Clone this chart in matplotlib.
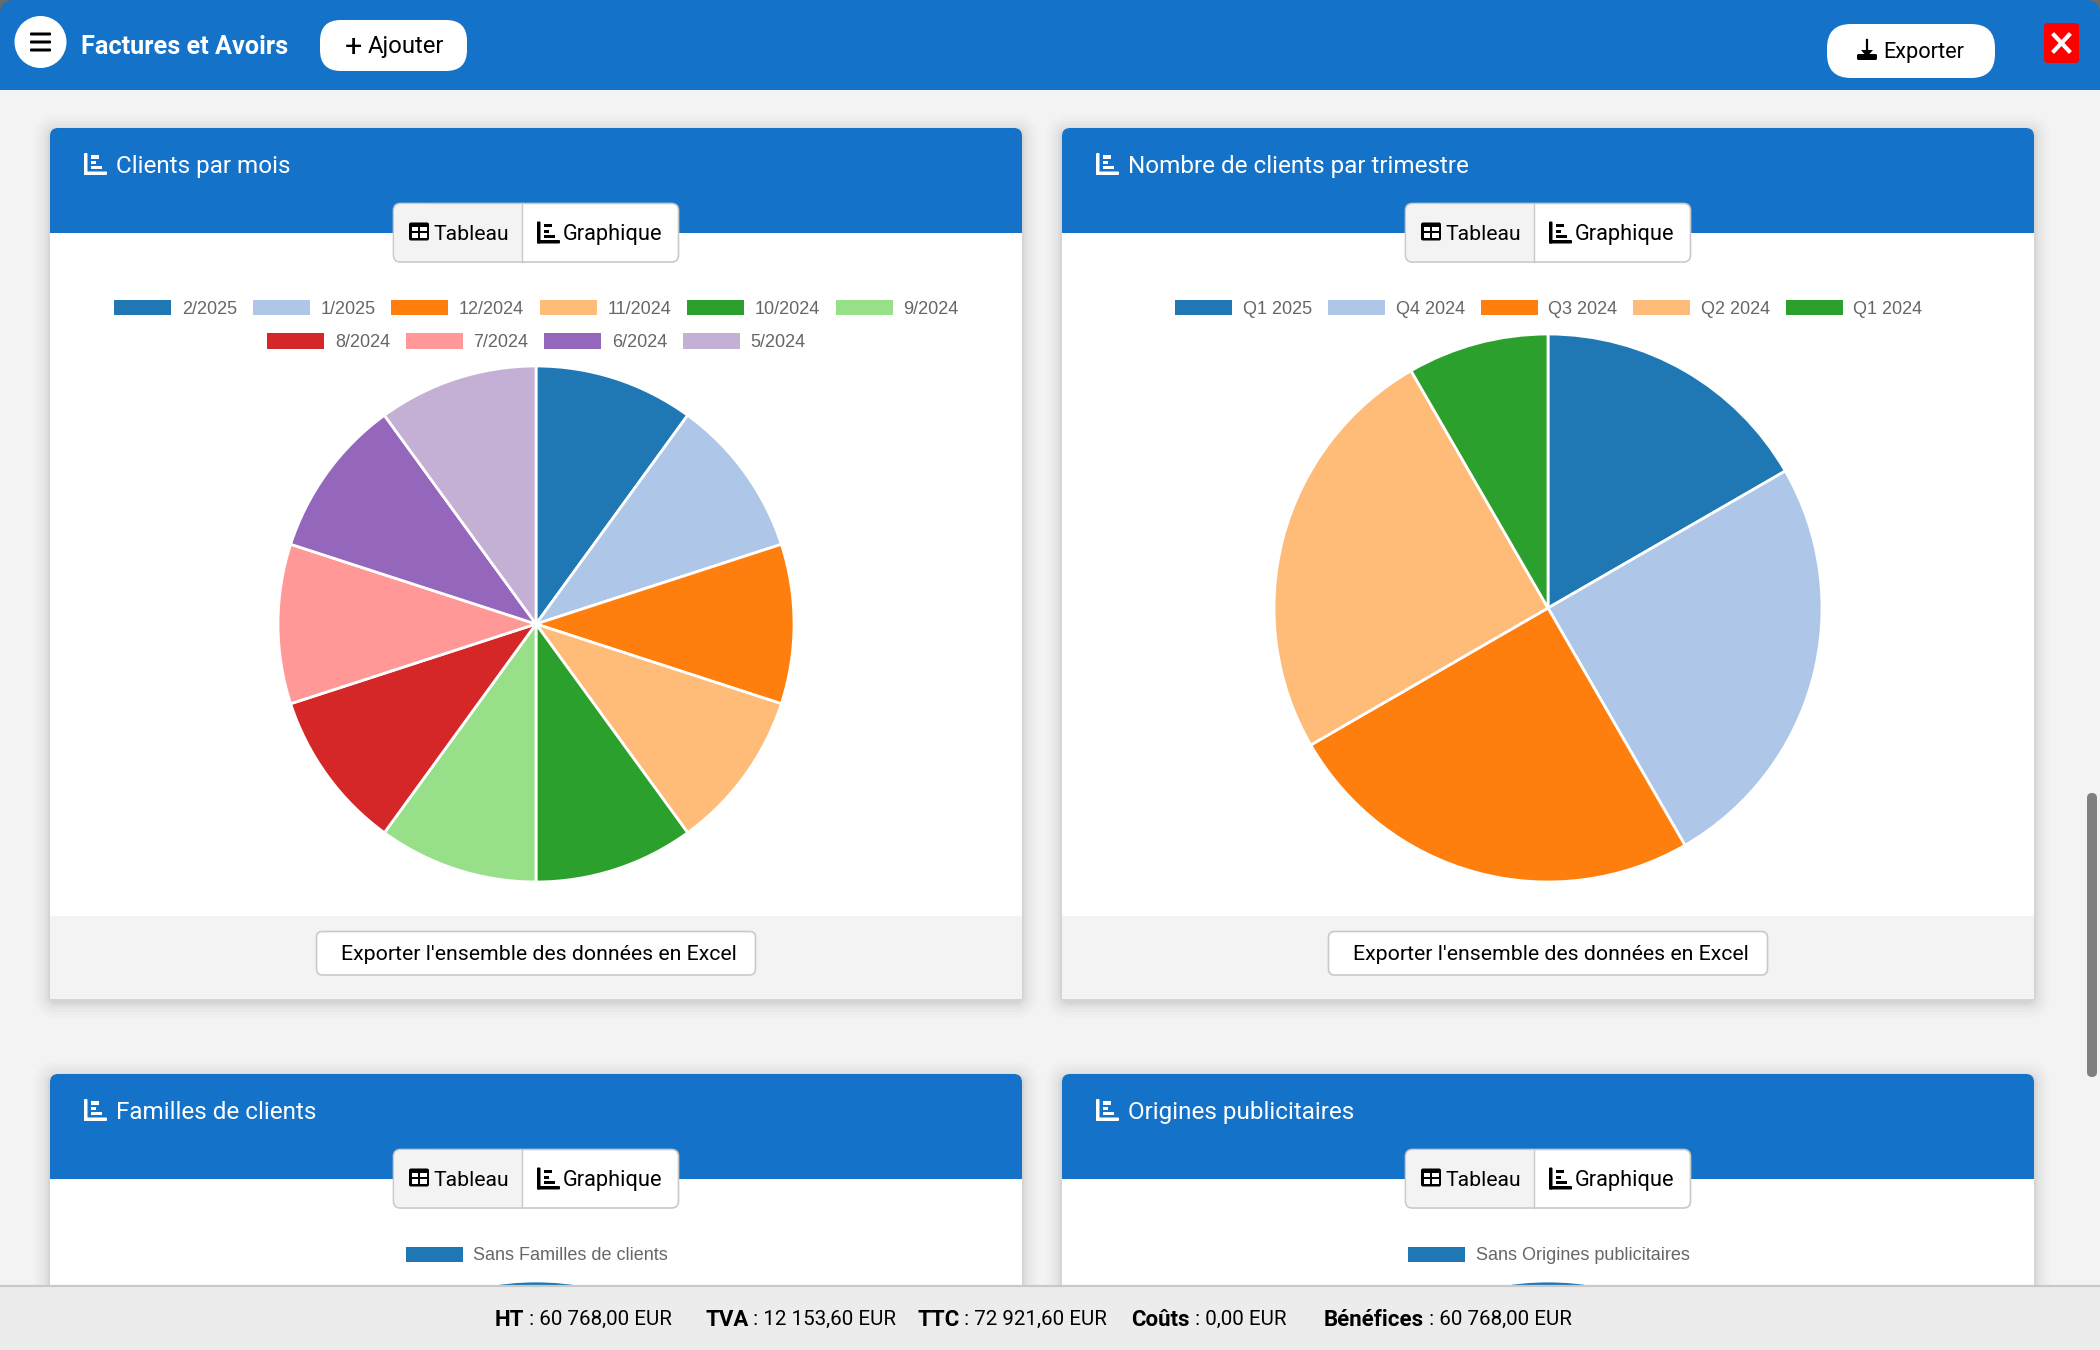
import matplotlib
matplotlib.use("Agg")
import matplotlib.pyplot as plt
from matplotlib.patches import FancyBboxPatch, Rectangle, Circle, Polygon

W, H = 2100, 1350

BLUE = "#1572C9"
PAGE_BG = "#F3F3F3"
BAR_BG = "#ECECEC"
BORDER = "#C9C9C9"
UI_FONT = "Roboto"
LEGEND_FONT = "Liberation Sans"

# chart data
month_labels = ["2/2025", "1/2025", "12/2024", "11/2024", "10/2024", "9/2024",
                "8/2024", "7/2024", "6/2024", "5/2024"]
month_values = [1, 1, 1, 1, 1, 1, 1, 1, 1, 1]
quarter_labels = ["Q1 2025", "Q4 2024", "Q3 2024", "Q2 2024", "Q1 2024"]
quarter_values = [2, 3, 3, 3, 1]
family_labels = ["Sans Familles de clients"]
family_values = [1]
origin_labels = ["Sans Origines publicitaires"]
origin_values = [1]
palette = ["#1f77b4", "#aec7e8", "#ff7f0e", "#ffbb78", "#2ca02c",
           "#98df8a", "#d62728", "#ff9896", "#9467bd", "#c5b0d5"]

total_names = ["HT", "TVA", "TTC", "Coûts", "Bénéfices"]
total_values = ["60 768,00 EUR", "12 153,60 EUR", "72 921,60 EUR", "0,00 EUR", "60 768,00 EUR"]
total_starts = [495, 705, 917, 1131, 1324]

fig = plt.figure(figsize=(W / 100, H / 100), dpi=100, facecolor=PAGE_BG)
ax = fig.add_axes([0, 0, 1, 1], zorder=0)
ax.set_xlim(0, W)
ax.set_ylim(H, 0)
ax.axis("off")
top_ax = fig.add_axes([0, 0, 1, 1], zorder=5)
top_ax.set_xlim(0, W)
top_ax.set_ylim(H, 0)
top_ax.axis("off")
renderer = fig.canvas.get_renderer()


def rbox(a, x0, y0, x1, y1, r, fc, ec="none", lw=0, z=2, alpha=None):
    patch = FancyBboxPatch((x0, y0), x1 - x0, y1 - y0,
                           boxstyle=f"round,pad=0,rounding_size={r}",
                           fc=fc, ec=ec, lw=lw, zorder=z, alpha=alpha)
    a.add_patch(patch)
    return patch


def rect(a, x0, y0, x1, y1, fc, z=2):
    a.add_patch(Rectangle((x0, y0), x1 - x0, y1 - y0, fc=fc, ec="none", zorder=z))


def chart_icon(a, x, y, color, z=6):
    # little bar chart glyph, x,y is the top left corner
    rbox(a, x, y, x + 3.5, y + 22, 1, color, z=z)
    rbox(a, x, y + 18.5, x + 23, y + 22, 1, color, z=z)
    rect(a, x + 7, y + 2, x + 15, y + 5.5, color, z)
    rect(a, x + 7, y + 8, x + 12, y + 11, color, z)
    rect(a, x + 7, y + 13, x + 18, y + 16, color, z)


def table_icon(a, x, y, z=6):
    rbox(a, x, y + 1, x + 20, y + 19, 2, "black", z=z)
    rect(a, x + 2.5, y + 5.5, x + 9, y + 9.5, "white", z + 1)
    rect(a, x + 11, y + 5.5, x + 17.5, y + 9.5, "white", z + 1)
    rect(a, x + 2.5, y + 11.5, x + 9, y + 16, "white", z + 1)
    rect(a, x + 11, y + 11.5, x + 17.5, y + 16, "white", z + 1)


def draw_legend(y, rows, colors, cx):
    i = 0
    for r, row in enumerate(rows):
        widths = []
        for label in row:
            t = ax.text(0, 0, label, fontsize=13, family=LEGEND_FONT)
            widths.append(t.get_window_extent(renderer).width)
            t.remove()
        total = sum(widths) + 67.5 * len(row) + 16 * (len(row) - 1)
        x = cx - total / 2
        for label, w in zip(row, widths):
            rect(ax, x, y + r * 33.5 - 7.5, x + 57, y + r * 33.5 + 8, colors[i % len(colors)], 4)
            ax.text(x + 67.5, y + r * 33.5, label, fontsize=13, color="#666666",
                    family=LEGEND_FONT, va="center_baseline", zorder=4)
            x += 57 + 10.5 + w + 16
            i += 1


def draw_pie(cx, cy, r, values, colors):
    pie_ax = fig.add_axes([(cx - r) / W, (H - cy - r) / H, 2 * r / W, 2 * r / H], zorder=1)
    pie_ax.pie(values, colors=colors, startangle=90, counterclock=False, radius=1.0,
               wedgeprops={"edgecolor": "white", "linewidth": 2.0})
    pie_ax.set_xlim(-1.0, 1.0)
    pie_ax.set_ylim(-1.0, 1.0)
    pie_ax.set_aspect("equal")


def draw_card(x0, y0, y1, title):
    x1 = x0 + 972
    # soft shadow
    for grow, al in [(16, 0.01), (13, 0.012), (10, 0.016), (7, 0.02), (4, 0.028), (2, 0.035)]:
        rbox(ax, x0 - grow, y0 - grow + 3, x1 + grow, y1 + grow + 3, 8 + grow, "black", z=1, alpha=al)
    rbox(ax, x0, y0, x1, y1, 8, "white", z=2)
    rect(ax, x0, y0 + 105, x1, y1, "white", 2)
    rbox(ax, x0, y0, x1, y0 + 60, 8, BLUE, z=3)
    rect(ax, x0, y0 + 20, x1, y0 + 105, BLUE, 3)
    chart_icon(ax, x0 + 34, y0 + 25, "white")
    ax.text(x0 + 66, y0 + 36.2, title, fontsize=17.5, color="white", family=UI_FONT,
            va="center_baseline", zorder=6)
    # Tableau / Graphique toggle
    bx = x0 + 343.5
    by = y0 + 75.5
    rbox(ax, bx, by, bx + 285, by + 58.5, 7, "white", BORDER, 1.2, z=4)
    rbox(ax, bx + 1, by + 1, bx + 40, by + 57.5, 6, PAGE_BG, z=5)
    rect(ax, bx + 12, by + 1, bx + 128, by + 57.5, PAGE_BG, 5)
    ax.plot([bx + 128, bx + 128], [by, by + 58.5], color=BORDER, lw=1, zorder=6)
    table_icon(ax, bx + 15.5, by + 18)
    ax.text(bx + 39.5, by + 28.5, "Tableau", fontsize=15.2, color="black", family=UI_FONT,
            va="center_baseline", zorder=6)
    chart_icon(ax, bx + 143.5, by + 18, "black")
    ax.text(bx + 169, by + 28.5, "Graphique", fontsize=15.7, color="black", family=UI_FONT,
            va="center_baseline", zorder=6)


# page header
rect(ax, 0, 0, 30, 30, "#6A6A6A", 1)
rect(ax, W - 30, 0, W, 30, "#6A6A6A", 1)
rbox(ax, 0, 0, W, 60, 14, BLUE, z=2)
rect(ax, 0, 30, W, 90, BLUE, 2)
ax.add_patch(Circle((40.5, 42), 26, fc="white", ec="none", zorder=3))
for yb in [34, 42, 50]:
    rbox(ax, 30, yb - 1.5, 51, yb + 1.5, 1, "black", z=4)
ax.text(81, 44, "Factures et Avoirs", fontsize=18.2, color="white", family=UI_FONT,
        fontweight="bold", va="center_baseline", zorder=4)
rbox(ax, 320, 20, 467, 71, 21, "white", z=3)
ax.text(353, 44.5, "+", fontsize=22, color="black", family=UI_FONT, ha="center",
        va="center_baseline", zorder=4)
ax.text(368, 44.5, "Ajouter", fontsize=17.2, color="black", family=UI_FONT,
        va="center_baseline", zorder=4)
rbox(ax, 1827, 24, 1995, 78, 24, "white", z=3)
# download glyph
ax.plot([1867, 1867], [40, 55], color="black", lw=1.6, zorder=4)
ax.add_patch(Polygon([[1861, 50], [1873, 50], [1867, 57]], fc="black", ec="none", zorder=4))
rbox(ax, 1857, 54, 1877, 60, 1.5, "black", z=4)
ax.text(1883, 50, "Exporter", fontsize=15.7, color="black", family=UI_FONT,
        va="center_baseline", zorder=4)
rbox(ax, 2044, 23, 2079, 63, 4, "#FF0000", z=3)
ax.plot([2054, 2069], [35, 51], color="white", lw=3.0, zorder=4)
ax.plot([2069, 2054], [35, 51], color="white", lw=3.0, zorder=4)

# top row of cards
draw_card(50, 128, 999, "Clients par mois")
draw_card(1062, 128, 999, "Nombre de clients par trimestre")
for x0 in [50, 1062]:
    rect(ax, x0, 916, x0 + 972, 999, PAGE_BG, 3)
    rbox(ax, x0 + 266.5, 931.5, x0 + 705.5, 975, 6, "white", BORDER, 1.2, z=4)
    ax.text(x0 + 489, 953, "Exporter l'ensemble des données en Excel", fontsize=15.3,
            color="black", family=UI_FONT, ha="center", va="center_baseline", zorder=5)
draw_legend(307, [month_labels[:6], month_labels[6:]], palette, 536.5)
draw_legend(307, [quarter_labels], palette, 1549)
draw_pie(536, 624, 258, month_values, palette)
draw_pie(1548, 608, 274, quarter_values, palette)

# bottom row of cards, cut by the totals bar
draw_card(50, 1074, 1400, "Familles de clients")
draw_card(1062, 1074, 1400, "Origines publicitaires")
draw_legend(1254, [family_labels], palette, 537)
draw_legend(1254, [origin_labels], palette, 1549)
draw_pie(536, 1281 + 273, 273, family_values, palette)
draw_pie(1548, 1281 + 273, 273, origin_values, palette)

# totals bar
rect(top_ax, 0, 1286, W, H, BAR_BG, 2)
top_ax.plot([0, W], [1286, 1286], color=BORDER, lw=1.6, zorder=3)
for x, name, value in zip(total_starts, total_names, total_values):
    t = top_ax.text(x, 1317.5, name, fontsize=16, color="black", family=UI_FONT, fontweight="bold",
                    va="center_baseline", zorder=4)
    x += t.get_window_extent(renderer).width
    top_ax.text(x, 1317.5, " : " + value, fontsize=14.8, color="black", family=UI_FONT,
                va="center_baseline", zorder=4)

# scrollbar
rbox(top_ax, 2087, 793, 2097, 1077, 5, "#7F7F7F", z=4)

fig.savefig("out.png", dpi=100)
